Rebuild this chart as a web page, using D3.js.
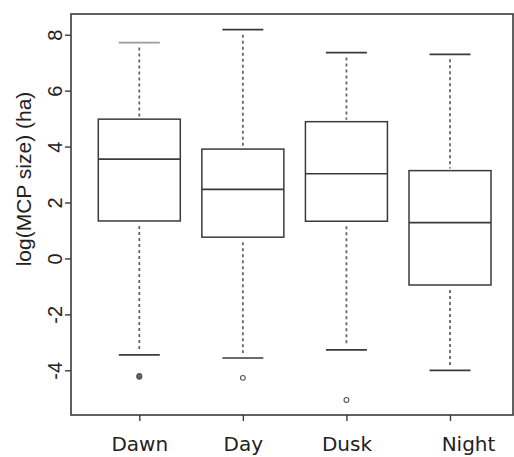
<!DOCTYPE html>
<html><head><meta charset="utf-8">
<script src="https://cdn.jsdelivr.net/npm/d3@7"></script>
<style>html,body{margin:0;padding:0;background:#fff;}svg{display:block;}</style>
</head><body>
<svg id="chart" width="514" height="457"></svg>
<script>
const categories = ["Dawn", "Day", "Dusk", "Night"];
const whiskerHigh = [7.72, 8.18, 7.36, 7.30];
const q3 = [4.98, 3.91, 4.89, 3.14];
const median = [3.55, 2.47, 3.03, 1.28];
const q1 = [1.34, 0.76, 1.33, -0.95];
const whiskerLow = [-3.45, -3.56, -3.27, -4.0];
const outliers = [[-4.23, -4.20], [-4.27], [-5.06], []];
const yTicks = [-4, -2, 0, 2, 4, 6, 8];

const svg = d3.select("#chart");
const y = d3.scaleLinear().domain([-4, 8]).range([370.3, 34.7]);
const x = d3.scalePoint().domain(categories).range([139.3, 450]);
const plot = {left: 71, right: 513, top: 14, bottom: 415};
const boxHalf = 41, capHalf = 20.5;
const ink = "#3a3a3a";
const labelShift = {Night: 18};

// frame
svg.append("rect").attr("x", plot.left).attr("y", plot.top)
  .attr("width", plot.right - plot.left).attr("height", plot.bottom - plot.top)
  .attr("fill", "none").attr("stroke", ink).attr("stroke-width", 1.6);

// y axis
const yAxis = d3.axisLeft(y).tickValues(yTicks).tickSize(6).tickPadding(0).tickFormat(d3.format("d"));
const ya = svg.append("g").attr("transform", `translate(${plot.left},0)`).call(yAxis);
ya.select(".domain").remove();
ya.selectAll(".tick line").attr("stroke", ink).attr("stroke-width", 1.4);
ya.selectAll(".tick text")
  .attr("transform", "translate(-9,0) rotate(-90)")
  .attr("x", 0).attr("y", 0).attr("dy", 0)
  .attr("text-anchor", "middle")
  .attr("font-family", "Liberation Sans, Arial, sans-serif")
  .attr("font-size", 20).attr("fill", "#222")
  .text(d => d < 0 ? "-" + Math.abs(d) : d);

// x axis
const xAxis = d3.axisBottom(x).tickSize(6).tickPadding(16);
const xa = svg.append("g").attr("transform", `translate(0,${plot.bottom})`).call(xAxis);
xa.select(".domain").remove();
xa.selectAll(".tick line").attr("stroke", ink).attr("stroke-width", 1.4);
xa.selectAll(".tick text")
  .attr("dx", d => labelShift[d] || 0)
  .attr("font-family", "DejaVu Sans, sans-serif")
  .attr("font-size", 20).attr("fill", "#222");

// y label
svg.append("text")
  .attr("transform", `translate(31,179) rotate(-90)`)
  .attr("text-anchor", "middle")
  .attr("font-family", "Liberation Sans, Arial, sans-serif")
  .attr("font-size", 21).attr("fill", "#222")
  .text("log(MCP size) (ha)");

// boxes
categories.forEach((c, i) => {
  const cx = x(c);
  const g = svg.append("g");
  // whiskers (dotted)
  g.append("line").attr("x1", cx).attr("x2", cx).attr("y1", y(whiskerHigh[i]) + 5).attr("y2", y(q3[i]) - 2)
    .attr("stroke", "#666").attr("stroke-width", 1.8).attr("stroke-dasharray", "3,3");
  g.append("line").attr("x1", cx).attr("x2", cx).attr("y1", y(q1[i]) + 5).attr("y2", y(whiskerLow[i]) - 5)
    .attr("stroke", "#666").attr("stroke-width", 1.8).attr("stroke-dasharray", "3,3");
  // caps
  g.append("line").attr("x1", cx - capHalf).attr("x2", cx + capHalf)
    .attr("y1", y(whiskerHigh[i])).attr("y2", y(whiskerHigh[i]))
    .attr("stroke", i === 0 ? "#9a9a9a" : ink).attr("stroke-width", 1.7);
  g.append("line").attr("x1", cx - capHalf).attr("x2", cx + capHalf)
    .attr("y1", y(whiskerLow[i])).attr("y2", y(whiskerLow[i]))
    .attr("stroke", ink).attr("stroke-width", 1.7);
  // box
  g.append("rect").attr("x", cx - boxHalf).attr("y", y(q3[i]))
    .attr("width", boxHalf * 2).attr("height", y(q1[i]) - y(q3[i]))
    .attr("fill", "#fff").attr("stroke", ink).attr("stroke-width", 1.5);
  g.append("line").attr("x1", cx - boxHalf).attr("x2", cx + boxHalf)
    .attr("y1", y(median[i])).attr("y2", y(median[i]))
    .attr("stroke", ink).attr("stroke-width", 1.6);
  // outliers
  outliers[i].forEach(v => {
    g.append("circle").attr("cx", cx).attr("cy", y(v)).attr("r", 2.4)
      .attr("fill", i === 0 ? "#666" : "none").attr("stroke", "#555").attr("stroke-width", 1.1);
  });
});
</script>
</body></html>
